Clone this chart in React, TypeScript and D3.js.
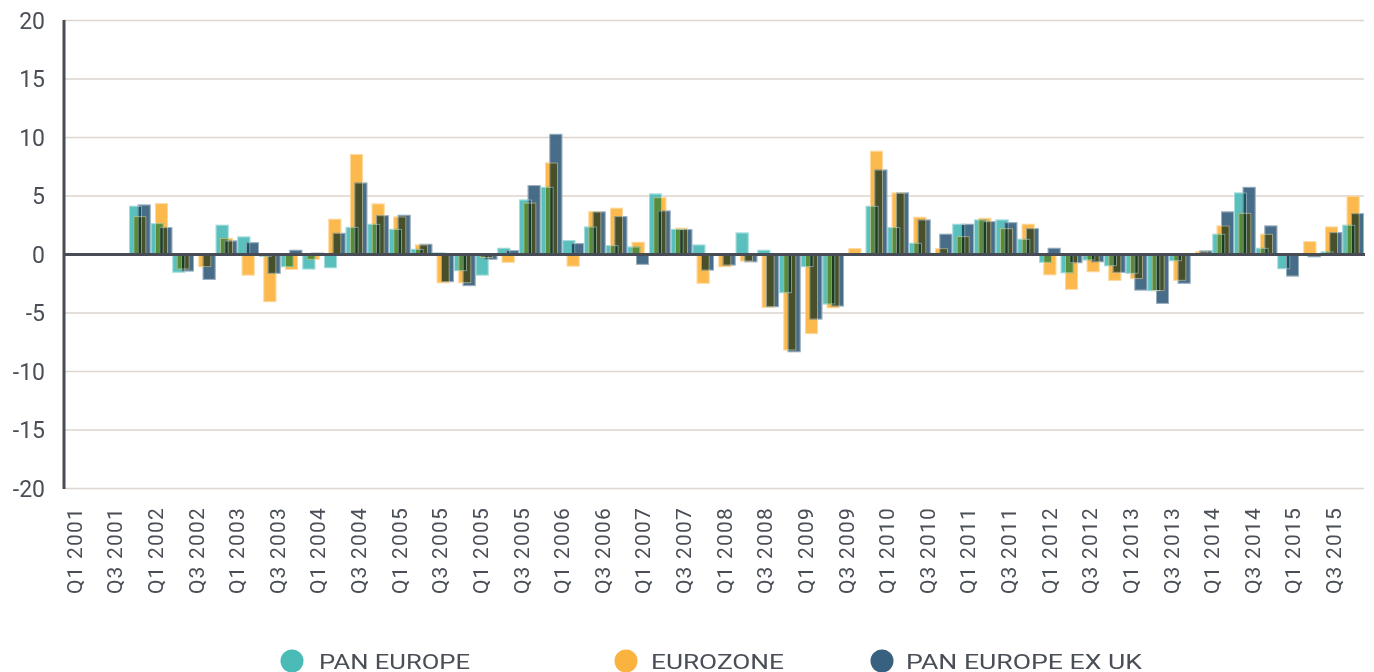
import React from "react";
import { scaleBand, scaleLinear, scalePoint } from "d3";

// quarters used by the bars (Q1 2001 .. Q4 2015)
const years = [2001, 2002, 2003, 2004, 2005, 2006, 2007, 2008, 2009, 2010, 2011, 2012, 2013, 2014, 2015];
const quarters: string[] = years.flatMap((y) => ["Q1", "Q2", "Q3", "Q4"].map((q) => `${q} ${y}`));

// labels printed on the axis (the source repeats 2005)
const tickLabels = [
  "Q1 2001", "Q3 2001", "Q1 2002", "Q3 2002", "Q1 2003", "Q3 2003", "Q1 2004", "Q3 2004",
  "Q1 2005", "Q3 2005", "Q1 2005", "Q3 2005", "Q1 2006", "Q3 2006", "Q1 2007", "Q3 2007",
  "Q1 2008", "Q3 2008", "Q1 2009", "Q3 2009", "Q1 2010", "Q3 2010", "Q1 2011", "Q3 2011",
  "Q1 2012", "Q3 2012", "Q1 2013", "Q3 2013", "Q1 2014", "Q3 2014", "Q1 2015", "Q3 2015",
];

const yTicks = [20, 15, 10, 5, 0, -5, -10, -15, -20];

const panEurope: (number | null)[] = [
  null, null, null, 4.16, 2.68, -1.55, -0.1, 2.54, 1.54, -0.2,
  -1.08, -1.28, -1.17, 2.36, 2.62, 2.19, 0.48, 0.17, -1.42, -1.8,
  0.57, 4.7, 5.78, 1.23, 2.39, 0.8, 0.68, 5.21, 2.19, 0.85,
  -0.1, 1.88, 0.4, -3.3, -1.08, -4.27, 0, 4.16, 2.34, 1.0,
  0.14, 2.62, 2.99, 2.99, 1.34, -0.71, -1.6, -0.51, -1.0, -1.65,
  -3.13, -0.57, 0, 1.77, 5.3, 0.57, -1.25, 0, 0.26, 2.54,
];

const eurozone: (number | null)[] = [
  null, null, null, 3.28, 4.39, -1.28, -1.08, 1.42, -1.8, -4.07,
  -1.31, -0.46, 3.05, 8.58, 4.36, 3.25, 0.85, -2.45, -2.45, -0.3,
  -0.71, 4.44, 7.86, -1.03, 3.7, 3.99, 1.08, 4.9, 2.28, -2.5,
  -1.08, -0.6, -4.56, -8.2, -6.8, -4.59, 0.54, 8.86, 5.3, 3.22,
  0.54, 1.57, 3.13, 2.25, 2.62, -1.77, -3.02, -1.51, -2.25, -2.1,
  -3.13, -2.25, 0.26, 2.48, 3.56, 1.77, 0, 1.14, 2.39, 5.01,
];

const panEuropeExUk: (number | null)[] = [
  null, null, null, 4.27, 2.34, -1.45, -2.17, 1.2, 1.05, -1.65,
  0.4, 0.15, 1.85, 6.15, 3.36, 3.39, 0.91, -2.36, -2.7, -0.45,
  0.37, 5.93, 10.31, 0.97, 3.68, 3.28, -0.88, 3.76, 2.17, -1.37,
  -0.94, -0.66, -4.5, -8.35, -5.56, -4.44, 0, 7.26, 5.3, 2.99,
  1.77, 2.62, 2.85, 2.76, 2.25, 0.57, -0.74, -0.66, -1.57, -3.08,
  -4.22, -2.5, 0.34, 3.68, 5.78, 2.48, -1.88, -0.23, 1.91, 3.53,
];

const seriesNames = ["PAN EUROPE", "EUROZONE", "PAN EUROPE EX UK"];
const seriesColors = ["#4bbbb8", "#fbb33f", "#37617f"];
const seriesData = [panEurope, eurozone, panEuropeExUk];

const textColor = "#4a4f57";
const axisColor = "#474c55";

const App: React.FC = () => {
  const width = 1374;
  const height = 672;
  const plot = { left: 64, right: 1364, top: 20.5, bottom: 488.5 };

  const x = scaleBand<string>().domain(quarters).range([plot.left, plot.right]).padding(0);
  const step = x.step();
  const xs = scalePoint<string>().domain(seriesNames).range([0, step * 0.4]);
  const barW = step * 0.6;

  const xl = scaleBand<number>()
    .domain(tickLabels.map((_, i) => i))
    .range([plot.left, plot.right]);

  const y = scaleLinear().domain([-20, 20]).range([plot.bottom, plot.top]);

  const bars: any[] = [];
  const outlines: any[] = [];
  seriesData.forEach((vals, si) => {
    vals.forEach((v, qi) => {
      if (v === null || v === 0) return;
      const bx = (x(quarters[qi]) as number) + (xs(seriesNames[si]) as number);
      const by = y(Math.max(0, v));
      const bh = Math.abs(y(v) - y(0));
      bars.push(
        <rect
          key={`b-${si}-${qi}`}
          x={bx}
          y={by}
          width={barW}
          height={bh}
          fill={seriesColors[si]}
          fillOpacity={0.92}
          style={{ mixBlendMode: "multiply" }}
        />
      );
      outlines.push(
        <rect
          key={`o-${si}-${qi}`}
          x={bx + 0.5}
          y={by + 0.5}
          width={barW - 1}
          height={Math.max(0, bh - 1)}
          fill="none"
          stroke="rgba(255,255,255,0.45)"
          strokeWidth={1}
        />
      );
    });
  });

  const legendItems = [
    { cx: 292, tx: 319, len: 151 },
    { cx: 626, tx: 651, len: 133 },
    { cx: 882, tx: 906, len: 236 },
  ];

  return (
    <svg
      width={width}
      height={height}
      style={{ position: "absolute", left: 0, top: 0, background: "#fff" }}
      fontFamily="Roboto, 'DejaVu Sans', sans-serif"
    >
      {/* grid */}
      {yTicks
        .filter((t) => t !== 0)
        .map((t) => (
          <line key={`g${t}`} x1={plot.left} x2={plot.right} y1={y(t)} y2={y(t)} stroke="#ddd5cf" strokeWidth={1.5} />
        ))}

      {/* y tick labels */}
      {yTicks.map((t) => (
        <text key={`yt${t}`} x={45} y={y(t)} dy="0.36em" textAnchor="end" fontSize={23} fill={textColor}>
          {t}
        </text>
      ))}

      <g style={{ isolation: "isolate" }}>{bars}</g>
      <g>{outlines}</g>

      {/* zero line and y axis */}
      <line x1={plot.left} x2={plot.right + 1} y1={y(0)} y2={y(0)} stroke={axisColor} strokeWidth={3} />
      <line x1={plot.left} x2={plot.left} y1={plot.top - 0.5} y2={plot.bottom + 0.5} stroke={axisColor} strokeWidth={3} />

      {/* x labels */}
      {tickLabels.map((lab, i) => {
        const cx = (xl(i) as number) + xl.step() / 4;
        return (
          <text
            key={`xl${i}`}
            transform={`translate(${cx},507) rotate(-90)`}
            dy="0.36em"
            textAnchor="end"
            fontSize={21}
            letterSpacing={1.2}
            fill={textColor}
          >
            {lab}
          </text>
        );
      })}

      {/* legend */}
      {seriesNames.map((name, i) => (
        <g key={`lg${i}`}>
          <circle cx={legendItems[i].cx} cy={661} r={11.5} fill={seriesColors[i]} />
          <text
            x={legendItems[i].tx}
            y={668.5}
            fontSize={21}
            fill={textColor}
            textLength={legendItems[i].len}
            lengthAdjust="spacingAndGlyphs"
          >
            {name}
          </text>
        </g>
      ))}
    </svg>
  );
};

export default App;
